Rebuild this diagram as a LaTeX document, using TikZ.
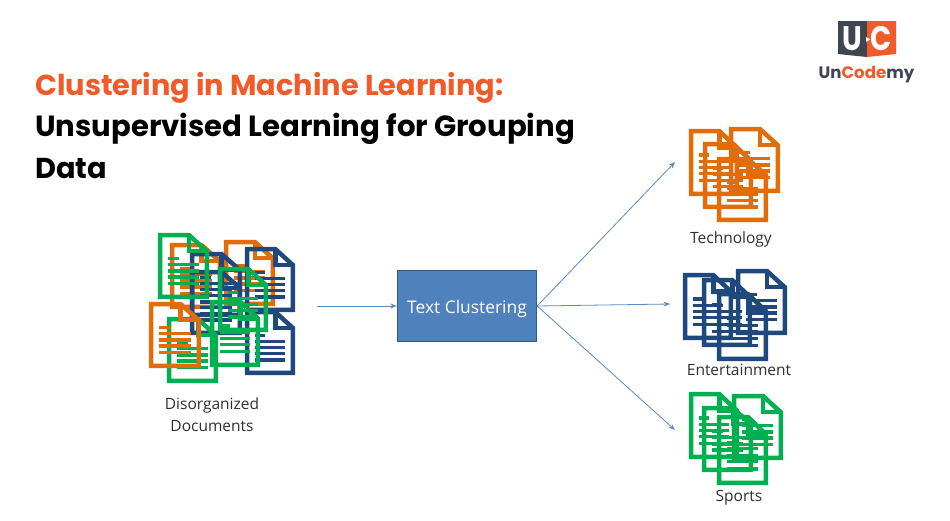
\documentclass[tikz,border=0pt]{standalone}
\usepackage{fontspec}
\newfontfamily\titlefont{Poppins}
\newfontfamily\labelfont{Open Sans}
\newfontfamily\logofont{Poppins}
\definecolor{docorange}{HTML}{E36C0A}
\definecolor{docblue}{HTML}{1F497D}
\definecolor{docgreen}{HTML}{00B050}
\definecolor{titleorange}{HTML}{F15A29}
\definecolor{boxfill}{HTML}{4F81BD}
\definecolor{boxline}{HTML}{2F5C8F}
\definecolor{arrowblue}{HTML}{5B8BC5}
\definecolor{logodark}{HTML}{404552}
\definecolor{labelgray}{HTML}{303030}
\usetikzlibrary{arrows.meta}
% #1 left, #2 top, #3 right, #4 bottom (outer edges), #5 colour
\newcommand{\docicon}[5]{%
  \begin{scope}[shift={(#1+2.2,#2+2.2)},x={(#3-#1-4.4,0)},y={(0,#4-#2-4.4)}]
    \draw[docoutline,draw=#5] (0,0) -- (.62,0) -- (1,.26) -- (1,1) -- (0,1) -- cycle;
    \draw[docoutline,draw=#5] (.62,0) -- (.62,.26) -- (1,.26);
    \draw[docrule,draw=#5] (.17,.38) -- (.40,.38);
    \foreach \ruley in {.48,.58,.68,.79}
      \draw[docrule,draw=#5] (.17,\ruley) -- (.83,\ruley);
  \end{scope}}
\tikzset{
  x=1pt,y=-1pt,
  docoutline/.style={line width=4.5pt,line join=miter},
  docrule/.style={line width=3.2pt},
  flow/.style={draw=arrowblue,line width=.8pt,-{Stealth[length=6.5pt,width=5pt]}},
  titletext/.style={anchor=base west,inner sep=0pt,font=\titlefont\bfseries\fontsize{28.8}{29}\selectfont},
  titlewide/.style={titletext,font=\titlefont\bfseries\fontsize{29.15}{29}\selectfont},
  lbl/.style={font=\labelfont\fontsize{15.5}{22}\selectfont,text=labelgray,inner sep=0pt,align=center},
  clusterbox/.style={draw=boxline,line width=1.4pt,fill=boxfill,minimum width=139pt,minimum height=71pt,inner sep=0pt},
  boxtext/.style={text=white,inner sep=0pt,anchor=base,font=\labelfont\fontsize{17.4}{20}\selectfont},
  logoletter/.style={text=white,inner sep=0pt,xscale=.82,font=\logofont\bfseries\fontsize{34}{34}\selectfont},
}
\begin{document}
\begin{tikzpicture}
\useasboundingbox (0,0) rectangle (950,520);
\fill[white] (0,0) rectangle (950,520);
% titles
\node[titletext,text=titleorange] (t1) at (35,95) {Clustering in Machine Learning:};
\node[titlewide,text=black] (t2) at (35,136) {Unsupervised Learning for Grouping};
\node[titletext,text=black] (t3) at (35,178) {Data};
% logo
\fill[logodark] (838,21) -- (867,21) -- (867,57) -- (838,54) -- cycle;
\fill[titleorange] (867,21) -- (896,21) -- (896,54) -- (867,57) -- cycle;
\node[logoletter] (lu) at (852.5,39) {U};
\node[logoletter] (lc) at (881.5,39) {C};
\fill[white] (866,37) -- (870,39.5) -- (866,42) -- cycle;
\node[anchor=base,inner sep=0pt,font=\logofont\bfseries\fontsize{16.6}{17}\selectfont] (logo) at (866.5,78)
  {\textcolor{logodark}{Un}\textcolor{titleorange}{Code}\textcolor{logodark}{my}};
% disorganized documents
\docicon{170}{243}{222}{309}{docorange}
\docicon{224}{240}{275}{306}{docorange}
\docicon{190}{252}{242}{317}{docblue}
\docicon{190}{270}{242}{335}{docblue}
\docicon{245}{247}{295}{312}{docblue}
\docicon{245}{310}{295}{375}{docblue}
\docicon{218}{267}{268}{332}{docgreen}
\docicon{158}{233}{209}{299}{docgreen}
\docicon{167}{317}{218}{383}{docgreen}
\docicon{210}{300}{260}{367}{docgreen}
\docicon{149}{302}{201}{368}{docorange}
\node[lbl] (dis) at (212,415) {Disorganized\\Documents};
% technology
\docicon{689}{129}{739}{196}{docorange}
\docicon{729}{127}{780}{193}{docorange}
\docicon{703}{142}{753}{209}{docorange}
\docicon{717}{157}{768}{222}{docorange}
\node[lbl] (tech) at (731,239) {Technology};
% entertainment
\docicon{683}{273}{733}{340}{docblue}
\docicon{736}{269}{787}{335}{docblue}
\docicon{702}{278}{752}{347}{docblue}
\docicon{717}{292}{768}{361}{docblue}
\node[lbl] (ent) at (739,370) {Entertainment};
% sports
\docicon{689}{392}{739}{459}{docgreen}
\docicon{732}{394}{783}{460}{docgreen}
\docicon{702}{406}{753}{472}{docgreen}
\docicon{717}{415}{768}{485}{docgreen}
\node[lbl] (spo) at (739,498) {Sports};
% flow
\node[clusterbox] (tc) at (467,306) {};
\node[boxtext] (tct) at (467,313) {Text Clustering};
\coordinate (src) at (317,306);
\coordinate (ct) at (675,162);
\coordinate (ce) at (670,304);
\coordinate (cs) at (675,430);
\draw[flow] (src) -- (tc.west);
\draw[flow] (tc.east) -- (ct);
\draw[flow] (tc.east) -- (ce);
\draw[flow] (tc.east) -- (cs);
\end{tikzpicture}
\end{document}
